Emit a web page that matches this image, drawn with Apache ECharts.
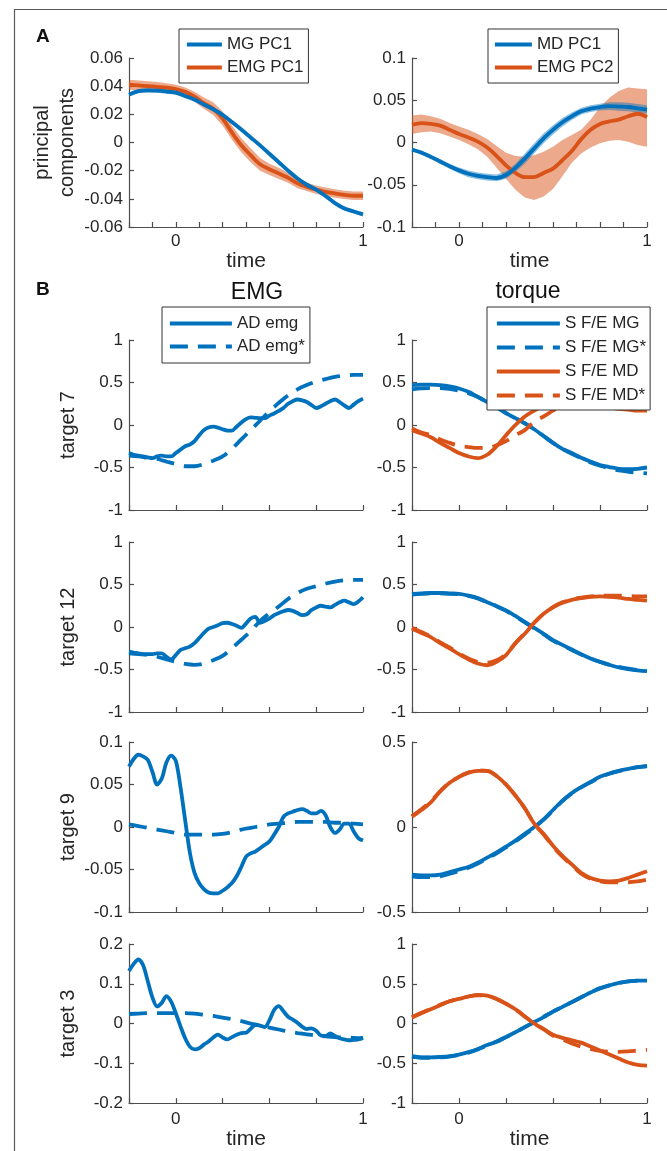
<!DOCTYPE html>
<html><head><meta charset="utf-8">
<script src="https://cdn.jsdelivr.net/npm/echarts@6.0.0/dist/echarts.min.js"></script>
<style>html,body{margin:0;padding:0;background:#fff}#c{width:667px;height:1151px}</style>
</head><body><div id="c"></div>
<script>
// time grids
const T26 = [-0.25,-0.2,-0.15,-0.1,-0.05,0,0.05,0.1,0.15,0.2,0.25,0.3,0.35,0.4,0.45,0.5,0.55,0.6,0.65,0.7,0.75,0.8,0.85,0.9,0.95,1];
const T51 = [-0.25,-0.225,-0.2,-0.175,-0.15,-0.125,-0.1,-0.075,-0.05,-0.025,0,0.025,0.05,0.075,0.1,0.125,0.15,0.175,0.2,0.225,0.25,0.275,0.3,0.325,0.35,0.375,0.4,0.425,0.45,0.475,0.5,0.525,0.55,0.575,0.6,0.625,0.65,0.675,0.7,0.725,0.75,0.775,0.8,0.825,0.85,0.875,0.9,0.925,0.95,0.975,1];

// Panel A (principal components)
const pcMG1 = [0.034,0.0365,0.037,0.0368,0.0362,0.0354,0.033,0.0305,0.027,0.0236,0.0196,0.0145,0.0092,0.0036,-0.002,-0.008,-0.014,-0.020,-0.0255,-0.030,-0.0335,-0.038,-0.043,-0.0468,-0.049,-0.051];
const pcMG1Err = [0.0015,0.0015,0.0015,0.0015,0.0015,0.0015,0.0015,0.0015,0.0015,0.0015,0.0015,0.0015,0.0015,0.0015,0.0015,0.0015,0.0015,0.0015,0.0015,0.0015,0.0015,0.0015,0.0015,0.0015,0.0015,0.0015];
const pcEMG1 = [0.041,0.0405,0.040,0.0395,0.039,0.038,0.036,0.0325,0.028,0.024,0.017,0.007,-0.002,-0.009,-0.0155,-0.019,-0.022,-0.025,-0.029,-0.0315,-0.0335,-0.035,-0.0362,-0.0372,-0.0378,-0.0378];
const pcEMG1Err = [0.0035,0.0035,0.0035,0.0035,0.003,0.003,0.003,0.0035,0.004,0.0045,0.005,0.005,0.005,0.005,0.0045,0.004,0.004,0.0035,0.0035,0.003,0.003,0.003,0.003,0.003,0.003,0.003];
const pcMD1 = [-0.0085,-0.012,-0.017,-0.0225,-0.028,-0.033,-0.037,-0.0395,-0.041,-0.042,-0.0385,-0.030,-0.019,-0.007,0.005,0.015,0.024,0.031,0.037,0.040,0.042,0.043,0.0425,0.042,0.0405,0.039];
const pcMD1Err = [0.002,0.002,0.0025,0.003,0.003,0.0035,0.004,0.004,0.004,0.004,0.0045,0.005,0.006,0.006,0.006,0.0055,0.005,0.0045,0.004,0.004,0.004,0.0045,0.005,0.005,0.005,0.005];
const pcEMG2 = [0.021,0.023,0.022,0.020,0.015,0.010,0.006,0.001,-0.006,-0.016,-0.027,-0.036,-0.041,-0.041,-0.036,-0.031,-0.021,-0.010,0.004,0.015,0.022,0.025,0.027,0.031,0.034,0.030];
const pcEMG2Lo = [0.010,0.012,0.013,0.011,0.007,0.003,-0.002,-0.008,-0.017,-0.030,-0.043,-0.056,-0.065,-0.068,-0.064,-0.055,-0.040,-0.024,-0.013,-0.006,-0.001,0.002,0.003,0.001,-0.003,-0.005];
const pcEMG2Hi = [0.032,0.033,0.031,0.028,0.023,0.019,0.015,0.010,0.004,-0.004,-0.012,-0.016,-0.017,-0.015,-0.011,-0.005,0.003,0.009,0.015,0.027,0.042,0.053,0.061,0.065,0.064,0.063];

// Panel B, EMG column (AD emg, AD emg*)
const emg7 = [-0.33,-0.35,-0.36,-0.37,-0.38,-0.39,-0.37,-0.36,-0.37,-0.37,-0.33,-0.29,-0.25,-0.23,-0.19,-0.12,-0.06,-0.03,-0.02,-0.03,-0.05,-0.065,-0.065,-0.02,0.03,0.07,0.09,0.085,0.08,0.08,0.11,0.135,0.165,0.20,0.25,0.28,0.30,0.29,0.27,0.235,0.20,0.22,0.25,0.28,0.30,0.27,0.23,0.20,0.24,0.28,0.31];
const emg7s = [-0.36,-0.37,-0.385,-0.40,-0.43,-0.46,-0.485,-0.485,-0.46,-0.42,-0.37,-0.28,-0.17,-0.06,0.05,0.16,0.26,0.35,0.42,0.47,0.51,0.54,0.565,0.58,0.59,0.59];
const emg12 = [-0.29,-0.30,-0.31,-0.32,-0.32,-0.32,-0.31,-0.31,-0.35,-0.38,-0.33,-0.27,-0.25,-0.23,-0.19,-0.13,-0.07,-0.02,0.00,0.02,0.045,0.05,0.035,0.015,-0.01,0.04,0.10,0.12,0.05,0.07,0.10,0.14,0.165,0.185,0.20,0.19,0.165,0.14,0.15,0.20,0.23,0.25,0.24,0.23,0.26,0.29,0.31,0.29,0.27,0.30,0.35];
const emg12s = [-0.31,-0.32,-0.33,-0.35,-0.38,-0.41,-0.435,-0.445,-0.43,-0.39,-0.34,-0.25,-0.15,-0.05,0.07,0.16,0.24,0.33,0.40,0.45,0.48,0.51,0.535,0.55,0.555,0.555];
const emg9 = [0.071,0.080,0.085,0.083,0.079,0.065,0.050,0.057,0.076,0.084,0.078,0.047,0.008,-0.030,-0.054,-0.066,-0.073,-0.077,-0.078,-0.078,-0.075,-0.071,-0.066,-0.058,-0.047,-0.035,-0.031,-0.029,-0.025,-0.021,-0.017,-0.009,0.000,0.012,0.016,0.018,0.020,0.021,0.019,0.016,0.016,0.019,0.014,0.000,-0.007,-0.003,0.004,0.004,-0.005,-0.013,-0.016];
const emg9s = [0.003,0.001,-0.001,-0.003,-0.005,-0.007,-0.009,-0.009,-0.009,-0.009,-0.008,-0.006,-0.003,-0.001,0.001,0.003,0.004,0.005,0.006,0.006,0.006,0.006,0.005,0.005,0.004,0.003];
const emg3 = [0.132,0.150,0.161,0.147,0.107,0.066,0.043,0.052,0.069,0.055,0.026,-0.007,-0.037,-0.058,-0.065,-0.062,-0.053,-0.045,-0.035,-0.028,-0.035,-0.040,-0.034,-0.028,-0.024,-0.023,-0.013,-0.003,-0.005,-0.009,0.008,0.034,0.044,0.031,0.017,0.010,0.002,-0.008,-0.014,-0.012,-0.018,-0.030,-0.031,-0.025,-0.031,-0.037,-0.040,-0.042,-0.041,-0.040,-0.035];
const emg3s = [0.024,0.025,0.026,0.026,0.026,0.026,0.026,0.025,0.022,0.019,0.015,0.011,0.006,0.000,-0.005,-0.010,-0.015,-0.020,-0.024,-0.027,-0.030,-0.032,-0.034,-0.035,-0.036,-0.037];

// Panel B, torque column
const tq7MG = [0.47,0.475,0.475,0.47,0.455,0.43,0.39,0.33,0.27,0.21,0.14,0.08,0.02,-0.05,-0.13,-0.21,-0.28,-0.33,-0.385,-0.43,-0.47,-0.495,-0.515,-0.52,-0.515,-0.50];
const tq7MGs = [0.42,0.43,0.435,0.435,0.425,0.405,0.375,0.33,0.27,0.21,0.14,0.08,0.02,-0.05,-0.13,-0.21,-0.28,-0.34,-0.39,-0.44,-0.48,-0.51,-0.535,-0.55,-0.56,-0.57];
const tq7MD = [-0.06,-0.10,-0.145,-0.21,-0.27,-0.33,-0.37,-0.39,-0.35,-0.25,-0.12,0.0,0.10,0.17,0.22,0.245,0.26,0.26,0.255,0.245,0.23,0.21,0.19,0.18,0.17,0.17];
const tq7MDs = [-0.04,-0.09,-0.12,-0.17,-0.21,-0.245,-0.26,-0.27,-0.27,-0.24,-0.19,-0.12,-0.06,0.04,0.10,0.17,0.22,0.24,0.255,0.265,0.27,0.275,0.28,0.28,0.28,0.275];
const tq12MG = [0.39,0.395,0.40,0.40,0.395,0.39,0.37,0.34,0.29,0.245,0.195,0.13,0.06,-0.01,-0.08,-0.155,-0.21,-0.265,-0.32,-0.37,-0.41,-0.445,-0.475,-0.495,-0.51,-0.52];
const tq12MGs = [0.38,0.39,0.395,0.395,0.39,0.385,0.365,0.335,0.29,0.245,0.19,0.125,0.055,-0.015,-0.085,-0.16,-0.215,-0.27,-0.325,-0.37,-0.41,-0.445,-0.47,-0.49,-0.505,-0.51];
const tq12MD = [-0.02,-0.07,-0.12,-0.19,-0.25,-0.32,-0.38,-0.43,-0.45,-0.41,-0.33,-0.19,-0.08,0.05,0.155,0.23,0.285,0.32,0.34,0.355,0.36,0.355,0.345,0.33,0.32,0.31];
const tq12MDs = [-0.01,-0.06,-0.11,-0.18,-0.24,-0.31,-0.37,-0.41,-0.42,-0.39,-0.32,-0.19,-0.07,0.05,0.155,0.235,0.29,0.325,0.345,0.36,0.365,0.37,0.37,0.365,0.36,0.36];
const tq9MG = [-0.28,-0.285,-0.285,-0.28,-0.265,-0.25,-0.235,-0.21,-0.18,-0.15,-0.115,-0.08,-0.04,0.0,0.045,0.10,0.155,0.20,0.235,0.265,0.295,0.315,0.33,0.342,0.352,0.357];
const tq9MGs = [-0.29,-0.295,-0.295,-0.29,-0.275,-0.26,-0.24,-0.215,-0.185,-0.155,-0.12,-0.085,-0.045,-0.003,0.043,0.098,0.152,0.197,0.233,0.263,0.292,0.313,0.329,0.341,0.352,0.36];
const tq9MD = [0.06,0.10,0.145,0.21,0.26,0.295,0.32,0.33,0.33,0.30,0.25,0.185,0.11,0.02,-0.04,-0.11,-0.17,-0.22,-0.27,-0.30,-0.315,-0.32,-0.315,-0.30,-0.28,-0.26];
const tq9MDs = [0.065,0.105,0.15,0.21,0.26,0.295,0.32,0.333,0.33,0.30,0.25,0.185,0.11,0.02,-0.045,-0.115,-0.175,-0.225,-0.275,-0.305,-0.32,-0.325,-0.325,-0.325,-0.32,-0.31];
const tq3MG = [-0.41,-0.425,-0.425,-0.42,-0.41,-0.39,-0.36,-0.32,-0.27,-0.23,-0.17,-0.11,-0.045,0.02,0.08,0.15,0.21,0.27,0.33,0.39,0.445,0.48,0.51,0.53,0.54,0.54];
const tq3MGs = [-0.42,-0.43,-0.43,-0.425,-0.415,-0.395,-0.365,-0.325,-0.275,-0.225,-0.17,-0.11,-0.045,0.02,0.085,0.15,0.21,0.27,0.33,0.39,0.44,0.48,0.51,0.53,0.54,0.55];
const tq3MD = [0.075,0.13,0.18,0.23,0.28,0.31,0.34,0.36,0.35,0.31,0.25,0.18,0.09,0.0,-0.07,-0.14,-0.18,-0.21,-0.24,-0.29,-0.34,-0.39,-0.44,-0.49,-0.52,-0.53];
const tq3MDs = [0.08,0.135,0.185,0.235,0.28,0.31,0.34,0.355,0.35,0.31,0.25,0.18,0.09,0.0,-0.07,-0.15,-0.20,-0.25,-0.29,-0.32,-0.345,-0.355,-0.355,-0.35,-0.34,-0.33];

// text
const rowNames = ['target 7','target 12','target 9','target 3'];
const xTickLabels = ['0','1'];

const BLUE = '#0072BD', ORANGE = '#D95319', TXT = '#262626', AX = '#4d4d4d';
const FONT = '"Liberation Sans", Arial, Helvetica, sans-serif';

const grids = [
  {left:129, top:58, width:234, height:169},
  {left:412, top:58, width:235, height:169},
  {left:129, top:340, width:234, height:170},
  {left:412, top:340, width:235, height:170},
  {left:129, top:542, width:234, height:170},
  {left:412, top:542, width:235, height:170},
  {left:129, top:742, width:234, height:170},
  {left:412, top:742, width:235, height:170},
  {left:129, top:944, width:234, height:171},
  {left:412, top:944, width:235, height:171}
];

function mkX(gi, interval, labels, nameGap, margin) {
  return {
    type:'value', gridIndex:gi, min:-0.25, max:1, interval:interval,
    axisLine:{show:true, onZero:false, lineStyle:{color:AX, width:1.2}},
    axisTick:{show:true, inside:true, length:5, lineStyle:{color:AX, width:1.2}},
    splitLine:{show:false},
    axisLabel:{show:labels, margin:margin || 6, color:TXT, fontSize:17, fontFamily:FONT,
      formatter: v => (Math.abs(v) < 1e-9 ? xTickLabels[0] : (Math.abs(v-1) < 1e-9 ? xTickLabels[1] : ''))},
    name: labels ? 'time' : '', nameLocation:'middle', nameGap:nameGap,
    nameTextStyle:{color:TXT, fontSize:21, fontFamily:FONT}
  };
}
function mkY(gi, min, max, interval, name, nameGap, lh) {
  return {
    type:'value', gridIndex:gi, min:min, max:max, interval:interval,
    axisLine:{show:true, onZero:false, lineStyle:{color:AX, width:1.2}},
    axisTick:{show:true, inside:true, length:5, lineStyle:{color:AX, width:1.2}},
    splitLine:{show:false},
    axisLabel:{margin:6, color:TXT, fontSize:17, fontFamily:FONT},
    name:name || '', nameLocation:'middle', nameRotate:90, nameGap:nameGap || 40,
    nameTextStyle:{color:TXT, fontSize:20, fontFamily:FONT, lineHeight: lh || 24}
  };
}
const xAxes = [
  mkX(0,0.125,true,13), mkX(1,0.125,true,13),
  mkX(2,0.25,false,0), mkX(3,0.25,false,0),
  mkX(4,0.25,false,0), mkX(5,0.25,false,0),
  mkX(6,0.25,false,0), mkX(7,0.25,false,0),
  mkX(8,0.25,true,18,8), mkX(9,0.25,true,18,8)
];
const yAxes = [
  mkY(0,-0.06,0.06,0.02,'principal\ncomponents',45,25), mkY(1,-0.1,0.1,0.05),
  mkY(2,-1,1,0.5,rowNames[0],49), mkY(3,-1,1,0.5),
  mkY(4,-1,1,0.5,rowNames[1],49), mkY(5,-1,1,0.5),
  mkY(6,-0.1,0.1,0.05,rowNames[2],49), mkY(7,-0.5,0.5,0.5),
  mkY(8,-0.2,0.2,0.1,rowNames[3],49), mkY(9,-1,1,0.5)
];

const DASH = [18, 10];
function line(gi, T, arr, color, dashed, name, smooth) {
  return {
    type:'line', name:name, xAxisIndex:gi, yAxisIndex:gi,
    data: T.map((t,i) => [t, arr[i]]),
    symbol:'none', showSymbol:false, smooth: smooth === undefined ? 0.35 : smooth,
    lineStyle:{color:color, width:3.8, type: dashed ? DASH : 'solid', cap:'butt'},
    itemStyle:{color:color}, silent:true, animation:false, z:3
  };
}
// shaded error band drawn as one polygon through the axis coordinate system
function band(gi, T, lo, hi, color) {
  return {
    type:'custom', xAxisIndex:gi, yAxisIndex:gi, silent:true, animation:false, z:2, clip:true,
    data: T.map((t,i) => [t, lo[i], hi[i]]),
    encode:{x:0, y:[1,2]},
    renderItem: function (params, api) {
      if (params.dataIndex !== 0) return null;
      const pts = [];
      for (let i = 0; i < T.length; i++) pts.push(api.coord([T[i], hi[i]]));
      for (let i = T.length - 1; i >= 0; i--) pts.push(api.coord([T[i], lo[i]]));
      return {type:'polygon', shape:{points:pts}, style:{fill:color, stroke:null}};
    }
  };
}
const lo = (c,e) => c.map((v,i)=>v-e[i]);
const hi = (c,e) => c.map((v,i)=>v+e[i]);

const series = [
  band(0, T26, lo(pcEMG1,pcEMG1Err), hi(pcEMG1,pcEMG1Err), 'rgba(217,83,25,0.5)'),
  band(0, T26, lo(pcMG1,pcMG1Err), hi(pcMG1,pcMG1Err), 'rgba(0,114,189,0.45)'),
  line(0, T26, pcEMG1, ORANGE, false, 'EMG PC1'), line(0, T26, pcMG1, BLUE, false, 'MG PC1'),
  band(1, T26, pcEMG2Lo, pcEMG2Hi, 'rgba(217,83,25,0.5)'),
  band(1, T26, lo(pcMD1,pcMD1Err), hi(pcMD1,pcMD1Err), 'rgba(0,114,189,0.45)'),
  line(1, T26, pcEMG2, ORANGE, false, 'EMG PC2'), line(1, T26, pcMD1, BLUE, false, 'MD PC1'),
  line(2, T51, emg7, BLUE, false, 'AD emg', 0.3), line(2, T26, emg7s, BLUE, true, 'AD emg*'),
  line(4, T51, emg12, BLUE, false, 'AD emg', 0.3), line(4, T26, emg12s, BLUE, true, 'AD emg*'),
  line(6, T51, emg9, BLUE, false, 'AD emg', 0.3), line(6, T26, emg9s, BLUE, true, 'AD emg*'),
  line(8, T51, emg3, BLUE, false, 'AD emg', 0.3), line(8, T26, emg3s, BLUE, true, 'AD emg*'),
  line(3, T26, tq7MG, BLUE, false, 'S F/E MG'), line(3, T26, tq7MGs, BLUE, true, 'S F/E MG*'),
  line(3, T26, tq7MD, ORANGE, false, 'S F/E MD'), line(3, T26, tq7MDs, ORANGE, true, 'S F/E MD*'),
  line(5, T26, tq12MG, BLUE, false, 'S F/E MG'), line(5, T26, tq12MGs, BLUE, true, 'S F/E MG*'),
  line(5, T26, tq12MD, ORANGE, false, 'S F/E MD'), line(5, T26, tq12MDs, ORANGE, true, 'S F/E MD*'),
  line(7, T26, tq9MG, BLUE, false, 'S F/E MG'), line(7, T26, tq9MGs, BLUE, true, 'S F/E MG*'),
  line(7, T26, tq9MD, ORANGE, false, 'S F/E MD'), line(7, T26, tq9MDs, ORANGE, true, 'S F/E MD*'),
  line(9, T26, tq3MG, BLUE, false, 'S F/E MG'), line(9, T26, tq3MGs, BLUE, true, 'S F/E MG*'),
  line(9, T26, tq3MD, ORANGE, false, 'S F/E MD'), line(9, T26, tq3MDs, ORANGE, true, 'S F/E MD*')
];

function mkLegend(names, left, top, itemWidth, gap, pad) {
  return {
    data:names, orient:'vertical', left:left, top:top, itemWidth:itemWidth, itemHeight:14,
    itemGap:gap, padding:pad, selectedMode:false, backgroundColor:'#fff',
    borderColor:'#333', borderWidth:1, borderRadius:0,
    itemStyle:{opacity:0}, lineStyle:{width:3.8},
    textStyle:{color:TXT, fontSize:17, fontFamily:FONT}, z:10
  };
}

const option = {
  animation:false,
  grid: grids,
  xAxis: xAxes,
  yAxis: yAxes,
  series: series,
  legend: [
    mkLegend(['MG PC1','EMG PC1'], 179, 29, 35, 6, [7,5,7,6]),
    mkLegend(['MD PC1','EMG PC2'], 488, 29, 37, 6, [7,5,7,5]),
    mkLegend(['AD emg','AD emg*'], 162, 307, 62, 6, [8,5,8,6]),
    mkLegend(['S F/E MG','S F/E MG*','S F/E MD','S F/E MD*'], 487, 307, 63, 7, [8,4,6,8])
  ],
  graphic: [
    {type:'rect', silent:true, z:-10, shape:{x:14.5, y:9.5, width:700, height:1200},
     style:{fill:'none', stroke:'#5a5a5a', lineWidth:1.2}},
    {type:'text', left:36, top:27, style:{text:'A', font:'bold 19px '+FONT, fill:'#111'}},
    {type:'text', left:36, top:280, style:{text:'B', font:'bold 19px '+FONT, fill:'#111'}},
    {type:'text', x:257, y:293, style:{text:'EMG', font:'23px '+FONT, fill:'#111', textAlign:'center', textVerticalAlign:'middle'}},
    {type:'text', x:528, y:292, style:{text:'torque', font:'23px '+FONT, fill:'#111', textAlign:'center', textVerticalAlign:'middle'}}
  ]
};
const chart = echarts.init(document.getElementById('c'), null, {renderer:'canvas'});
chart.setOption(option);
</script>
</body></html>
